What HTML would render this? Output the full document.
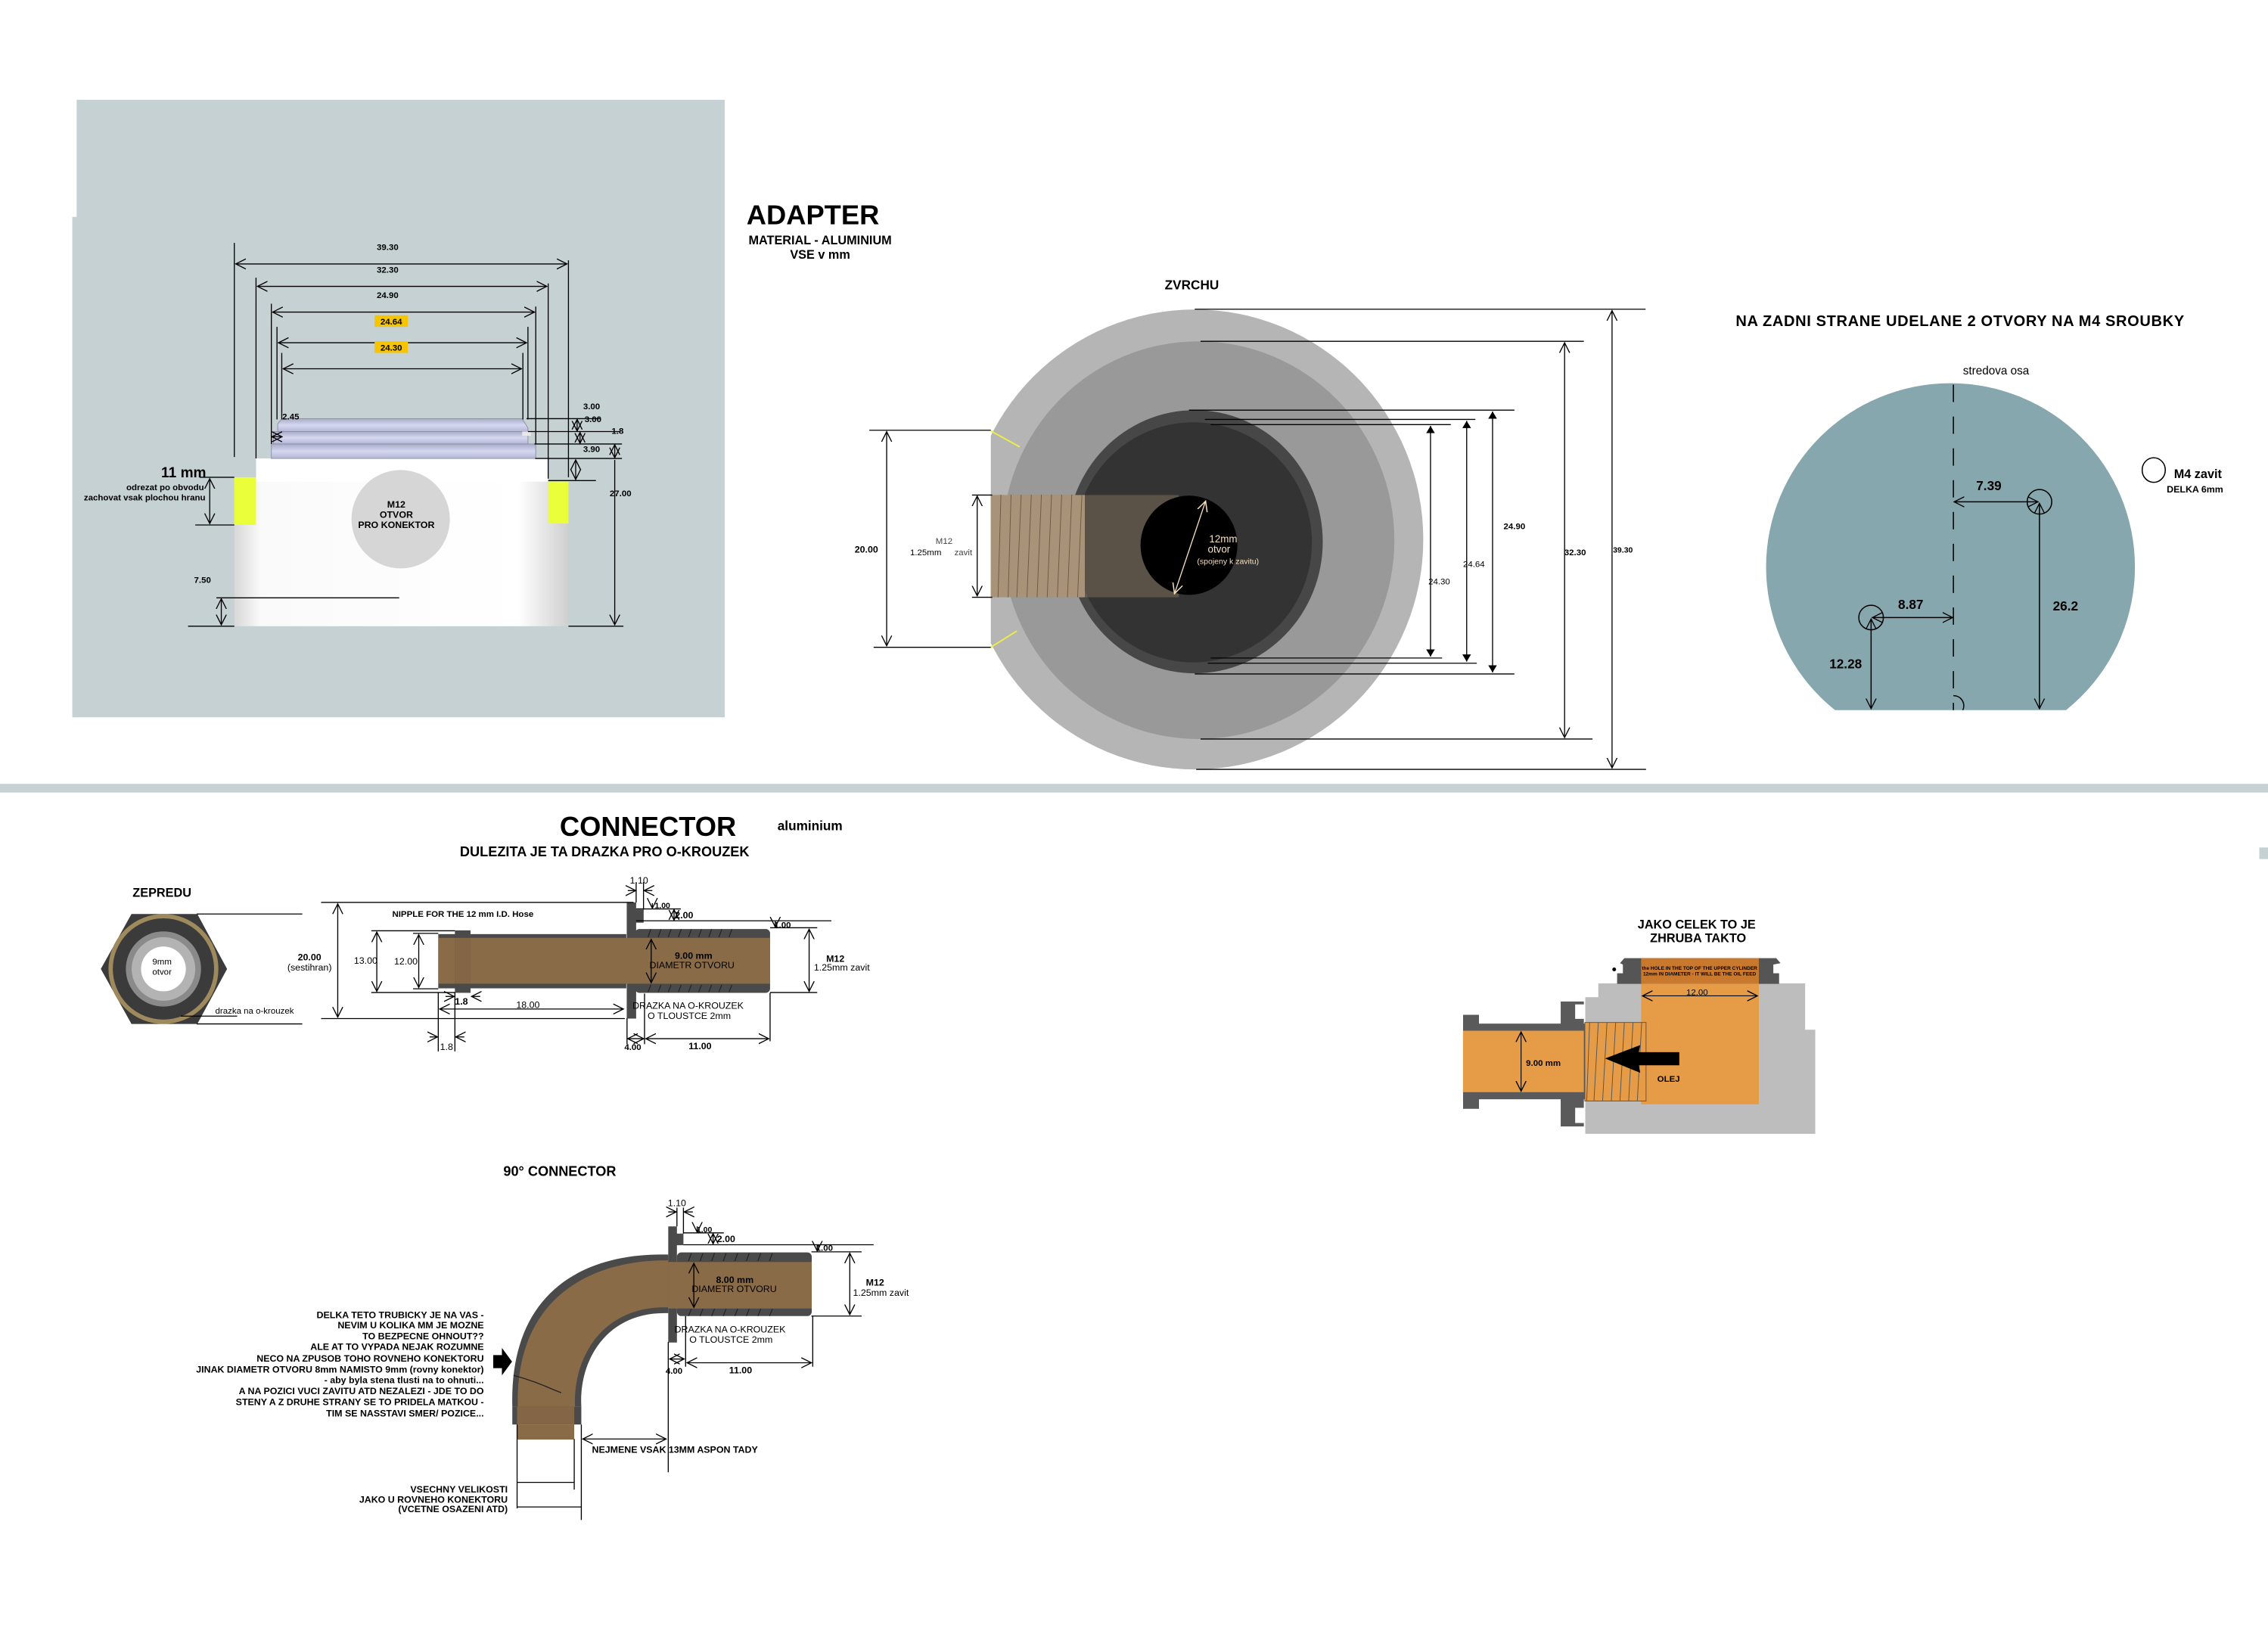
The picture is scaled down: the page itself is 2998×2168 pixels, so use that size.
<!DOCTYPE html>
<html><head><meta charset="utf-8"><style>
html,body{margin:0;padding:0;background:#fff;}
svg{display:block;}
text{font-family:"Liberation Sans",sans-serif;}
.b{font-weight:bold;}
.n{font-family:"Liberation Sans Narrow","Liberation Sans",sans-serif;}
</style></head><body>
<svg width="2998" height="2168" viewBox="0 0 1568 1134" preserveAspectRatio="none" xmlns="http://www.w3.org/2000/svg">
<defs>
<marker id="a" markerWidth="8" markerHeight="8" refX="7" refY="4" orient="auto-start-reverse" markerUnits="userSpaceOnUse">
<path d="M0,0.5 L7,4 L0,7.5" fill="none" stroke="#000" stroke-width="0.7"/></marker>
<marker id="f" markerWidth="6" markerHeight="6" refX="5" refY="3" orient="auto-start-reverse" markerUnits="userSpaceOnUse">
<path d="M0,0 L5,3 L0,6z" fill="#000"/></marker>
<marker id="w" markerWidth="8" markerHeight="8" refX="7" refY="4" orient="auto-start-reverse" markerUnits="userSpaceOnUse">
<path d="M0,0.5 L7,4 L0,7.5" fill="none" stroke="#f5dfc0" stroke-width="0.8"/></marker>
<linearGradient id="body" x1="0" x2="1" y1="0" y2="0">
<stop offset="0" stop-color="#d8d8d8"/><stop offset="0.08" stop-color="#fafafa"/><stop offset="0.85" stop-color="#fff"/><stop offset="1" stop-color="#cfcfcf"/></linearGradient>
<linearGradient id="lav" x1="0" x2="0" y1="0" y2="1">
<stop offset="0" stop-color="#a9acc6"/><stop offset="0.5" stop-color="#d6d8f2"/><stop offset="1" stop-color="#b3b6d2"/></linearGradient>
</defs>

<!-- ADAPTER panel -->
<rect x="53" y="69" width="448" height="427" fill="#c5d1d2"/>
<rect x="50" y="150" width="4" height="346" fill="#c5d1d2"/>
<!-- body -->
<rect x="162" y="330" width="231" height="103" fill="url(#body)"/>
<rect x="177" y="317" width="202" height="16" fill="#fff"/>
<rect x="162" y="316" width="15" height="14" fill="#c5d1d2"/>
<rect x="379" y="316" width="14" height="17" fill="#c5d1d2"/>
<rect x="162" y="330" width="15" height="33" fill="#eaff3a"/>
<rect x="379" y="333" width="14" height="29" fill="#eaff3a"/>
<!-- thread top -->
<path d="M195,289.5 L361,289.5 L365,296 L365,298.4 L192,298.4 L192,293z" fill="url(#lav)" stroke="#8d90ab" stroke-width="0.5"/>
<rect x="189" y="298.4" width="176" height="8.6" fill="url(#lav)" stroke="#8d90ab" stroke-width="0.5"/>
<rect x="187.6" y="307" width="182.8" height="10" fill="url(#lav)" stroke="#8d90ab" stroke-width="0.5"/>
<rect x="361" y="298.4" width="6" height="3" fill="#e8e8e8"/>
<circle cx="277" cy="359" r="34" fill="#d6d6d6"/>
<text x="274" y="351" font-size="6.5" class="b" text-anchor="middle">M12</text>
<text x="274" y="358" font-size="6.5" class="b" text-anchor="middle">OTVOR</text>
<text x="274" y="365" font-size="6.5" class="b" text-anchor="middle">PRO KONEKTOR</text>
<g stroke="#000" stroke-width="0.7" fill="none">
<line x1="162" y1="168" x2="162" y2="316"/><line x1="393" y1="180" x2="393" y2="330"/>
<line x1="163" y1="182.5" x2="392" y2="182.5" marker-start="url(#a)" marker-end="url(#a)"/>
<line x1="177" y1="192" x2="177" y2="317"/><line x1="379" y1="196" x2="379" y2="331"/>
<line x1="178" y1="198" x2="378" y2="198" marker-start="url(#a)" marker-end="url(#a)"/>
<line x1="187.6" y1="210" x2="187.6" y2="307"/><line x1="370.4" y1="212" x2="370.4" y2="307"/>
<line x1="188.5" y1="215.8" x2="369.5" y2="215.8" marker-start="url(#a)" marker-end="url(#a)"/>
<line x1="191.5" y1="226" x2="191.5" y2="290"/><line x1="365" y1="226" x2="365" y2="290"/>
<line x1="192.5" y1="237" x2="364" y2="237" marker-start="url(#a)" marker-end="url(#a)"/>
<line x1="194.8" y1="244" x2="194.8" y2="290"/><line x1="361.5" y1="244" x2="361.5" y2="290"/>
<line x1="195.8" y1="255" x2="360.5" y2="255" marker-start="url(#a)" marker-end="url(#a)"/>
<line x1="364" y1="289.5" x2="415" y2="289.5"/><line x1="365" y1="298.4" x2="429" y2="298.4"/>
<line x1="369.5" y1="307" x2="430" y2="307"/><line x1="370" y1="317" x2="430" y2="317"/>
<line x1="379" y1="332.3" x2="412" y2="332.3"/><line x1="393" y1="433" x2="431" y2="433"/>
<line x1="399" y1="290" x2="399" y2="298" marker-start="url(#a)" marker-end="url(#a)"/>
<line x1="401" y1="299" x2="401" y2="306.5" marker-start="url(#a)" marker-end="url(#a)"/>
<line x1="425" y1="307.5" x2="425" y2="316.5" marker-start="url(#a)" marker-end="url(#a)"/>
<line x1="425" y1="318" x2="425" y2="432" marker-end="url(#a)"/>
<line x1="398" y1="318" x2="398" y2="331.5" marker-start="url(#a)" marker-end="url(#a)"/>
<line x1="188" y1="302" x2="195" y2="302" marker-start="url(#a)" marker-end="url(#a)"/>
<line x1="145" y1="331" x2="145" y2="362" marker-start="url(#a)" marker-end="url(#a)"/>
<line x1="138" y1="330" x2="162" y2="330"/><line x1="135" y1="363" x2="162" y2="363"/>
<line x1="153" y1="414" x2="153" y2="432" marker-start="url(#a)" marker-end="url(#a)"/>
<line x1="149.6" y1="413.4" x2="276" y2="413.4"/><line x1="130" y1="433" x2="162" y2="433"/>
</g>
<g font-size="6" class="b" text-anchor="middle">
<text x="268" y="173">39.30</text><text x="268" y="188.5">32.30</text><text x="268" y="206">24.90</text>
<rect x="259" y="218" width="23" height="8" fill="#f7c400"/><text x="270.5" y="224.5">24.64</text>
<rect x="259" y="236" width="23" height="8" fill="#f7c400"/><text x="270.5" y="242.5">24.30</text>
<text x="409" y="283">3.00</text><text x="410" y="292">3.00</text><text x="427" y="300">1.8</text><text x="409" y="312.5">3.90</text>
<text x="429" y="343">27.00</text><text x="140" y="403">7.50</text><text x="201" y="290">2.45</text>
</g>
<text x="127" y="330" font-size="10" text-anchor="middle" class="b">11 mm</text>
<text x="141" y="339" font-size="6" text-anchor="end" class="b">odrezat po obvodu</text>
<text x="142" y="346" font-size="6" text-anchor="end" class="b">zachovat vsak plochou hranu</text>

<text x="562" y="155" font-size="19" class="b" text-anchor="middle">ADAPTER</text>
<text x="567" y="169" font-size="8.5" class="b" text-anchor="middle">MATERIAL - ALUMINIUM</text>
<text x="567" y="179" font-size="8.5" class="b" text-anchor="middle">VSE v mm</text>

<!-- ZVRCHU -->
<text x="824" y="200" font-size="9" class="b n" text-anchor="middle">ZVRCHU</text>
<clipPath id="cl"><rect x="685" y="150" width="400" height="400"/></clipPath>
<g clip-path="url(#cl)">
<ellipse cx="826" cy="373" rx="158" ry="159" fill="#b5b5b5"/>
<ellipse cx="828.5" cy="373.5" rx="135.5" ry="137.5" fill="#999"/>
</g>
<ellipse cx="826" cy="374.6" rx="88.5" ry="91" fill="#474747"/>
<ellipse cx="825" cy="375" rx="82" ry="83" fill="#333"/>
<rect x="685" y="342.3" width="130" height="70.7" fill="#a58c6e" opacity="0.35"/>
<rect x="685" y="342.3" width="65" height="70.7" fill="#a89278"/>
<g stroke="#6e5a44" stroke-width="0.5">
<line x1="692" y1="342" x2="690" y2="413"/><line x1="699" y1="342" x2="697" y2="413"/><line x1="706" y1="342" x2="703" y2="413"/><line x1="713" y1="342" x2="710" y2="413"/><line x1="720" y1="342" x2="717" y2="413"/><line x1="727" y1="342" x2="724" y2="413"/><line x1="734" y1="342" x2="731" y2="413"/><line x1="741" y1="342" x2="738" y2="413"/><line x1="748" y1="342" x2="745" y2="413"/>
</g>
<ellipse cx="822" cy="377" rx="33.5" ry="34.3" fill="#000"/>
<line x1="833.5" y1="346.5" x2="812" y2="410.5" stroke="#f5dfc0" stroke-width="0.7" marker-start="url(#w)" marker-end="url(#w)"/>
<g fill="#f5dfc0" class="n"><text x="836" y="375" font-size="7">12mm</text><text x="835" y="382" font-size="7">otvor</text><text x="849" y="390" font-size="5.5" text-anchor="middle">(spojeny k zavitu)</text></g>
<line x1="685" y1="298" x2="705" y2="309" stroke="#eef040" stroke-width="1"/>
<line x1="685" y1="447.6" x2="703" y2="436.3" stroke="#eef040" stroke-width="1"/>
<g stroke="#000" stroke-width="0.7" fill="none">
<line x1="601" y1="297.5" x2="685" y2="297.5"/><line x1="604" y1="447.6" x2="685" y2="447.6"/>
<line x1="613" y1="298.5" x2="613" y2="446.5" marker-start="url(#a)" marker-end="url(#a)"/>
<line x1="672" y1="342.3" x2="686" y2="342.3"/><line x1="672" y1="413" x2="686" y2="413"/>
<line x1="675.6" y1="343" x2="675.6" y2="412" marker-start="url(#a)" marker-end="url(#a)"/>
<line x1="826" y1="213.8" x2="1137.7" y2="213.8"/><line x1="830" y1="236" x2="1095" y2="236"/>
<line x1="822" y1="283.6" x2="1047" y2="283.6"/><line x1="833" y1="290" x2="1020" y2="290"/>
<line x1="837" y1="293.6" x2="1003" y2="293.6"/><line x1="837" y1="455" x2="997" y2="455"/>
<line x1="835" y1="458.6" x2="1021" y2="458.6"/><line x1="826" y1="466" x2="1047" y2="466"/>
<line x1="830" y1="511" x2="1101" y2="511"/><line x1="827" y1="532" x2="1138" y2="532"/>
<line x1="989" y1="294.5" x2="989" y2="454" marker-start="url(#f)" marker-end="url(#f)"/>
<line x1="1014" y1="291" x2="1014" y2="457.5" marker-start="url(#f)" marker-end="url(#f)"/>
<line x1="1031.9" y1="284.5" x2="1031.9" y2="465" marker-start="url(#f)" marker-end="url(#f)"/>
<line x1="1081.7" y1="237" x2="1081.7" y2="510" marker-start="url(#a)" marker-end="url(#a)"/>
<line x1="1114.5" y1="214.8" x2="1114.5" y2="531" marker-start="url(#a)" marker-end="url(#a)"/>
</g>
<g font-size="6" class="n">
<text x="599" y="382" class="b" text-anchor="middle" font-size="6.5">20.00</text>
<text x="652.7" y="376" text-anchor="middle" fill="#444">M12</text>
<text x="640" y="384" text-anchor="middle">1.25mm</text><text x="666" y="384" text-anchor="middle" fill="#444">zavit</text>
<text x="995" y="404" text-anchor="middle">24.30</text><text x="1019" y="392" text-anchor="middle">24.64</text>
<text x="1047" y="366" class="b" text-anchor="middle">24.90</text><text x="1089" y="384" class="b" text-anchor="middle">32.30</text>
<text x="1122" y="382" class="b" text-anchor="middle" font-size="5.5">39.30</text>
</g>

<!-- right: zadni strana -->
<text x="1200" y="225.5" font-size="10.5" class="b n" textLength="310">NA ZADNI STRANE UDELANE 2 OTVORY NA M4 SROUBKY</text>
<text x="1380" y="259" font-size="8" text-anchor="middle" class="n">stredova osa</text>
<clipPath id="c2"><rect x="1200" y="250" width="300" height="241"/></clipPath>
<ellipse cx="1348.5" cy="392" rx="127.5" ry="127" fill="#86a7ae" clip-path="url(#c2)"/>
<g stroke="#000" stroke-width="0.8" fill="none">
<line x1="1350.5" y1="266" x2="1350.5" y2="491" stroke-dasharray="12,10"/>
<circle cx="1410" cy="347" r="8.5"/><circle cx="1293.6" cy="427" r="8.5"/>
<line x1="1351" y1="347" x2="1409" y2="347" marker-start="url(#a)" marker-end="url(#a)"/>
<line x1="1410" y1="348" x2="1410" y2="490" marker-start="url(#a)" marker-end="url(#a)"/>
<line x1="1294.5" y1="427" x2="1350" y2="427" marker-start="url(#a)" marker-end="url(#a)"/>
<line x1="1293.6" y1="428" x2="1293.6" y2="490" marker-start="url(#a)" marker-end="url(#a)"/>
<path d="M1350.5,481 A7,7 0 0 1 1357,491"/>
<ellipse cx="1489" cy="325" rx="8" ry="8.5"/>
</g>
<g font-size="9" class="b n" text-anchor="middle">
<text x="1375" y="339">7.39</text><text x="1321" y="421">8.87</text><text x="1428" y="422">26.2</text><text x="1276" y="462">12.28</text></g>
<text x="1503" y="330.5" font-size="8.5" class="b n">M4 zavit</text>
<text x="1498" y="340.5" font-size="6.5" class="b">DELKA 6mm</text>

<!-- separator -->
<rect x="0" y="542" width="1568" height="6" fill="#c5d1d2"/>
<rect x="1562" y="586" width="6" height="8" fill="#c5d1d2"/>

<!-- CONNECTOR -->
<text x="448" y="578" font-size="19" class="b n" text-anchor="middle">CONNECTOR</text>
<text x="560" y="574" font-size="9" class="b n" text-anchor="middle">aluminium</text>
<text x="418" y="592" font-size="9.5" class="b n" text-anchor="middle">DULEZITA JE TA DRAZKA PRO O-KROUZEK</text>
<text x="112" y="620" font-size="8.5" class="b n" text-anchor="middle">ZEPREDU</text>
<polygon points="69.7,670 90.9,632 136.4,632 157,670 136.4,708 90.9,708" fill="#3b3b3b"/>
<circle cx="113" cy="670" r="36.5" fill="none" stroke="#9e8a5d" stroke-width="3"/>
<circle cx="113" cy="670" r="26" fill="#8a8a8a"/>
<circle cx="113" cy="670" r="22" fill="#b3b3b3"/>
<circle cx="113" cy="670" r="15.5" fill="#fff"/>
<text x="112" y="667" font-size="6" text-anchor="middle" class="n">9mm</text>
<text x="112" y="674" font-size="6" text-anchor="middle" class="n">otvor</text>
<g stroke="#000" stroke-width="0.7" fill="none">
<line x1="136" y1="632" x2="209" y2="632"/><line x1="136" y1="708" x2="209" y2="708"/>
<line x1="125" y1="702.6" x2="164" y2="702.6"/>
</g>
<text x="176" y="701" font-size="6" text-anchor="middle" class="n">drazka na o-krouzek</text>
<!-- straight connector body -->
<rect x="303" y="645.9" width="130" height="37.5" fill="#4a4a4a"/>
<rect x="303" y="648.5" width="130" height="31.7" fill="#8a6b47"/>
<rect x="314.5" y="643.3" width="10.8" height="43.2" fill="#4a4a4a"/>
<rect x="314.5" y="648.5" width="10.8" height="31.7" fill="#846545"/>
<path d="M433.3,624 L439.8,624 L439.8,629 L445,629 L445,638 L439.8,638 L439.8,704.3 L433.3,704.3z" fill="#4a4a4a"/>
<rect x="439" y="642.4" width="93.4" height="44.1" rx="3" fill="#4a4a4a"/>
<rect x="433" y="648.5" width="99.4" height="31.7" fill="#8a6b47"/>
<g stroke="#222" stroke-width="0.6">
<line x1="450" y1="642.5" x2="448" y2="648"/><line x1="457" y1="642.5" x2="455" y2="648"/><line x1="464" y1="642.5" x2="462" y2="648"/><line x1="471" y1="642.5" x2="469" y2="648"/><line x1="478" y1="642.5" x2="476" y2="648"/><line x1="485" y1="642.5" x2="483" y2="648"/><line x1="492" y1="642.5" x2="490" y2="648"/><line x1="499" y1="642.5" x2="497" y2="648"/><line x1="506" y1="642.5" x2="504" y2="648"/>
<line x1="450" y1="681" x2="448" y2="686"/><line x1="457" y1="681" x2="455" y2="686"/><line x1="464" y1="681" x2="462" y2="686"/><line x1="471" y1="681" x2="469" y2="686"/><line x1="478" y1="681" x2="476" y2="686"/><line x1="485" y1="681" x2="483" y2="686"/><line x1="492" y1="681" x2="490" y2="686"/><line x1="499" y1="681" x2="497" y2="686"/><line x1="506" y1="681" x2="504" y2="686"/>
</g>
<g stroke="#000" stroke-width="0.7" fill="none">
<line x1="222" y1="624" x2="438" y2="624"/><line x1="222" y1="704.3" x2="432" y2="704.3"/>
<line x1="233.5" y1="625" x2="233.5" y2="703.3" marker-start="url(#a)" marker-end="url(#a)"/>
<line x1="256.7" y1="643.6" x2="314.5" y2="643.6"/><line x1="256.7" y1="686.3" x2="314.5" y2="686.3"/>
<line x1="260.5" y1="644.5" x2="260.5" y2="685.5" marker-start="url(#a)" marker-end="url(#a)"/>
<line x1="285.6" y1="645.4" x2="303" y2="645.4"/><line x1="285.6" y1="683.7" x2="303" y2="683.7"/>
<line x1="289.5" y1="646.3" x2="289.5" y2="682.8" marker-start="url(#a)" marker-end="url(#a)"/>
<line x1="303" y1="686" x2="303" y2="727"/><line x1="314.5" y1="686" x2="314.5" y2="727"/>
<line x1="308" y1="689" x2="314" y2="689" marker-end="url(#a)"/><line x1="332" y1="689" x2="326" y2="689" marker-end="url(#a)"/>
<line x1="297" y1="717" x2="302.5" y2="717" marker-end="url(#a)"/><line x1="321" y1="717" x2="315" y2="717" marker-end="url(#a)"/>
<line x1="304" y1="697.7" x2="431" y2="697.7" marker-start="url(#a)" marker-end="url(#a)"/>
<line x1="433.5" y1="704" x2="433.5" y2="722"/><line x1="445.6" y1="687" x2="445.6" y2="722"/>
<line x1="434" y1="718.2" x2="445" y2="718.2" marker-start="url(#a)" marker-end="url(#a)"/>
<line x1="446.5" y1="718.2" x2="531.5" y2="718.2" marker-start="url(#a)" marker-end="url(#a)"/>
<line x1="532.4" y1="686.5" x2="532.4" y2="720"/>
<line x1="439.8" y1="610" x2="439.8" y2="624"/><line x1="444.9" y1="610" x2="444.9" y2="629"/>
<line x1="434" y1="615.8" x2="439.5" y2="615.8" marker-end="url(#a)"/><line x1="451" y1="615.8" x2="445.3" y2="615.8" marker-end="url(#a)"/>
<line x1="439.8" y1="628.5" x2="470.7" y2="628.5"/><line x1="439.8" y1="636.7" x2="574.8" y2="636.7"/>
<line x1="451" y1="624.5" x2="451" y2="628" marker-end="url(#a)"/>
<line x1="466" y1="629" x2="466" y2="636.2" marker-start="url(#a)" marker-end="url(#a)"/>
<line x1="532.4" y1="641.5" x2="565" y2="641.5"/><line x1="532.4" y1="686.3" x2="565" y2="686.3"/>
<line x1="536" y1="637" x2="536" y2="641" marker-end="url(#a)"/>
<line x1="559.4" y1="642.5" x2="559.4" y2="685.5" marker-start="url(#a)" marker-end="url(#a)"/>
<line x1="450.2" y1="649.5" x2="450.2" y2="679.5" marker-start="url(#a)" marker-end="url(#a)"/>
</g>
<g class="n" font-size="6.5" text-anchor="middle">
<text x="214" y="664" class="b">20.00</text><text x="214" y="671">(sestihran)</text>
<text x="320" y="634" class="b" font-size="6">NIPPLE FOR THE 12 mm I.D. Hose</text>
<text x="252.8" y="666.5">13.00</text><text x="280.6" y="667">12.00</text>
<text x="319" y="694.5" class="b">1.8</text><text x="365" y="697">18.00</text><text x="308.7" y="726">1.8</text>
<text x="441.8" y="611">1.10</text><text x="458" y="628" class="b" font-size="5.5">1.00</text><text x="473" y="635" class="b">2.00</text>
<text x="541" y="641.5" class="b" font-size="6">1.00</text>
<text x="479.5" y="663" class="b">9.00 mm</text><text x="478.4" y="669.5">DIAMETR OTVORU</text>
<text x="577.5" y="665" class="b">M12</text><text x="582" y="671">1.25mm zavit</text>
<text x="475.7" y="697.5">DRAZKA NA O-KROUZEK</text><text x="476.5" y="704.5">O TLOUSTCE 2mm</text>
<text x="437.5" y="726" class="b" font-size="6">4.00</text><text x="484" y="725.5" class="b">11.00</text>
</g>

<!-- 90 connector -->
<text x="387" y="813" font-size="9.5" class="b n" text-anchor="middle">90° CONNECTOR</text>
<path d="M462,867.5 C405,866 352,892 354.2,972.8 L401.9,972.8 C400,940 420,906.5 462,908z" fill="#4a4a4a"/>
<path d="M462,871.5 C410,871 356,896 358,972.8 L397.5,972.8 C396,937 418,902.5 462,904z" fill="#8a6b47"/>
<path d="M355,951 C370,955 380,960 388,963" stroke="#222" stroke-width="0.7" fill="none"/>
<rect x="354.2" y="972.8" width="47.7" height="12.2" fill="#4a4a4a"/>
<rect x="357.5" y="972.8" width="39.5" height="12.2" fill="#846545"/>
<rect x="357.5" y="985" width="39.5" height="10.4" fill="#8a6b47"/>
<path d="M462,848 L468,848 L468,853 L472.5,853 L472.5,861 L468,861 L468,928.3 L462,928.3z" fill="#4a4a4a"/>
<rect x="468" y="866" width="93.2" height="44" rx="3" fill="#4a4a4a"/>
<rect x="462" y="872.6" width="99.2" height="32.2" fill="#8a6b47"/>
<g stroke="#222" stroke-width="0.6">
<line x1="478" y1="866.5" x2="476" y2="872"/><line x1="486" y1="866.5" x2="484" y2="872"/><line x1="494" y1="866.5" x2="492" y2="872"/><line x1="502" y1="866.5" x2="500" y2="872"/><line x1="510" y1="866.5" x2="508" y2="872"/><line x1="518" y1="866.5" x2="516" y2="872"/><line x1="526" y1="866.5" x2="524" y2="872"/><line x1="534" y1="866.5" x2="532" y2="872"/>
<line x1="478" y1="905" x2="476" y2="910"/><line x1="486" y1="905" x2="484" y2="910"/><line x1="494" y1="905" x2="492" y2="910"/><line x1="502" y1="905" x2="500" y2="910"/><line x1="510" y1="905" x2="508" y2="910"/><line x1="518" y1="905" x2="516" y2="910"/><line x1="526" y1="905" x2="524" y2="910"/><line x1="534" y1="905" x2="532" y2="910"/>
</g>
<path d="M341,937 L347,937 L347,932 L354,941.5 L347,951 L347,946 L341,946z" fill="#000"/>
<g stroke="#000" stroke-width="0.7" fill="none">
<line x1="468" y1="835" x2="468" y2="848"/><line x1="472.5" y1="835" x2="472.5" y2="853"/>
<line x1="462" y1="838" x2="467.5" y2="838" marker-end="url(#a)"/><line x1="479" y1="838" x2="473" y2="838" marker-end="url(#a)"/>
<line x1="472.5" y1="852.5" x2="500.4" y2="852.5"/><line x1="472.5" y1="860.7" x2="604" y2="860.7"/>
<line x1="482" y1="848" x2="482" y2="852" marker-end="url(#a)"/>
<line x1="493" y1="853" x2="493" y2="860" marker-start="url(#a)" marker-end="url(#a)"/>
<line x1="561" y1="865.6" x2="595.7" y2="865.6"/><line x1="561" y1="910" x2="595.7" y2="910"/>
<line x1="565" y1="861" x2="565" y2="865" marker-end="url(#a)"/>
<line x1="587.5" y1="866.5" x2="587.5" y2="909" marker-start="url(#a)" marker-end="url(#a)"/>
<line x1="479.7" y1="873.5" x2="479.7" y2="904" marker-start="url(#a)" marker-end="url(#a)"/>
<line x1="462" y1="928" x2="462" y2="1018"/><line x1="474" y1="910" x2="474" y2="945"/>
<line x1="561.9" y1="910" x2="561.9" y2="945"/>
<line x1="463" y1="939.7" x2="473" y2="939.7" marker-start="url(#a)" marker-end="url(#a)"/>
<line x1="475" y1="942.3" x2="561" y2="942.3" marker-start="url(#a)" marker-end="url(#a)"/>
<line x1="402.9" y1="995" x2="460.5" y2="995" marker-start="url(#a)" marker-end="url(#a)"/>
<line x1="401.9" y1="985" x2="401.9" y2="1051"/><line x1="357.5" y1="985" x2="357.5" y2="1043"/>
<line x1="397" y1="995" x2="397" y2="1030"/>
<line x1="357.5" y1="1025" x2="397" y2="1025"/><line x1="357.5" y1="1042" x2="401.9" y2="1042"/>
</g>
<g class="n b" font-size="6.5" text-anchor="end">
<text x="334.5" y="911.5">DELKA TETO TRUBICKY JE NA VAS -</text>
<text x="334.5" y="918.5">NEVIM U KOLIKA MM JE MOZNE</text>
<text x="334.5" y="926">TO BEZPECNE OHNOUT??</text>
<text x="334.5" y="933.5">ALE AT TO VYPADA NEJAK ROZUMNE</text>
<text x="334.5" y="941.5">NECO NA ZPUSOB TOHO ROVNEHO KONEKTORU</text>
<text x="334.5" y="949">JINAK DIAMETR OTVORU 8mm NAMISTO 9mm (rovny konektor)</text>
<text x="334.5" y="956.5">- aby byla stena tlusti na to ohnuti...</text>
<text x="334.5" y="964">A NA POZICI VUCI ZAVITU ATD NEZALEZI - JDE TO DO</text>
<text x="334.5" y="971.5">STENY A Z DRUHE STRANY SE TO PRIDELA MATKOU -</text>
<text x="334.5" y="979.5">TIM SE NASSTAVI SMER/ POZICE...</text>
<text x="351" y="1032">VSECHNY VELIKOSTI</text>
<text x="351" y="1039">JAKO U ROVNEHO KONEKTORU</text>
<text x="351" y="1045.5">(VCETNE OSAZENI ATD)</text>
</g>
<g class="n" font-size="6.5" text-anchor="middle">
<text x="468" y="834">1.10</text><text x="487" y="852" class="b" font-size="5.5">1.00</text><text x="502" y="859" class="b">2.00</text>
<text x="570" y="865" class="b" font-size="6">1.00</text>
<text x="508" y="887" class="b">8.00 mm</text><text x="507.6" y="893.5">DIAMETR OTVORU</text>
<text x="605" y="889" class="b">M12</text><text x="609" y="896">1.25mm zavit</text>
<text x="504.7" y="921.5">DRAZKA NA O-KROUZEK</text><text x="505.4" y="928.5">O TLOUSTCE 2mm</text>
<text x="466" y="950" class="b" font-size="6">4.00</text><text x="512" y="949.5" class="b">11.00</text>
<text x="466.6" y="1004.5" class="b">NEJMENE VSAK 13MM ASPON TADY</text>
</g>

<!-- JAKO CELEK -->
<text x="1173" y="642" font-size="8.5" class="b" text-anchor="middle">JAKO CELEK TO JE</text>
<text x="1174" y="651.5" font-size="8.5" class="b" text-anchor="middle">ZHRUBA TAKTO</text>
<polygon points="1105,680 1248,680 1248,712 1255,712 1255,784 1096,784 1096,689.5 1105,689.5" fill="#bdbdbd"/>
<path d="M1120,666 L1123,662.5 L1228,662.5 L1231,666 L1226,667 L1226,673 L1230,673 L1230,680.3 L1118,680.3 L1118,673 L1122,673 L1122,667z" fill="#555"/>
<rect x="1134.6" y="662.5" width="81.4" height="17.8" fill="#c9792e"/>
<rect x="1134.6" y="680.3" width="81.4" height="83.3" fill="#e69c47"/>
<rect x="1095.7" y="707" width="42.3" height="54.3" fill="#e69c47"/>
<g stroke="#555" stroke-width="0.5">
<line x1="1099" y1="707" x2="1097" y2="761"/><line x1="1105" y1="707" x2="1102" y2="761"/><line x1="1111" y1="707" x2="1108" y2="761"/><line x1="1117" y1="707" x2="1114" y2="761"/><line x1="1123" y1="707" x2="1120" y2="761"/><line x1="1129" y1="707" x2="1126" y2="761"/><line x1="1135" y1="707" x2="1132" y2="761"/>
<rect x="1095.7" y="707" width="42.3" height="54.3" fill="none"/>
</g>
<text x="1175" y="670.5" font-size="3.4" class="b" text-anchor="middle">the HOLE IN THE TOP OF THE UPPER CYLINDER</text>
<text x="1175" y="674.5" font-size="3.4" class="b" text-anchor="middle">12mm IN DIAMETER - IT WILL BE THE OIL FEED</text>
<circle cx="1116" cy="670.3" r="1.3" fill="#000"/>
<line x1="1135.5" y1="688.6" x2="1215" y2="688.6" stroke="#000" stroke-width="0.6" marker-start="url(#a)" marker-end="url(#a)"/>
<text x="1173.3" y="688" font-size="6" text-anchor="middle">12.00</text>
<!-- left tube -->
<rect x="1011.5" y="701.7" width="11" height="65" fill="#5a5a5a"/>
<rect x="1011.5" y="707.8" width="84" height="52.3" fill="#5a5a5a"/>
<rect x="1079" y="692.5" width="16" height="86.4" fill="#5a5a5a"/>
<rect x="1089" y="694.5" width="6.5" height="10" fill="#fff"/>
<rect x="1089" y="766" width="6.5" height="10.5" fill="#fff"/>
<rect x="1011.5" y="712.7" width="83.5" height="42.5" fill="#e69c47"/>
<line x1="1051.6" y1="713.5" x2="1051.6" y2="754.5" stroke="#000" stroke-width="0.6" marker-start="url(#a)" marker-end="url(#a)"/>
<text x="1067" y="737" font-size="6" class="b" text-anchor="middle">9.00 mm</text>
<path d="M1133,727.5 L1161,727.5 L1161,736.6 L1133,736.6 L1134,741.8 L1109.7,731.9 L1134,722.6z" fill="#000"/>
<text x="1153.6" y="748" font-size="6" class="b" text-anchor="middle">OLEJ</text>
</svg>
</body></html>
